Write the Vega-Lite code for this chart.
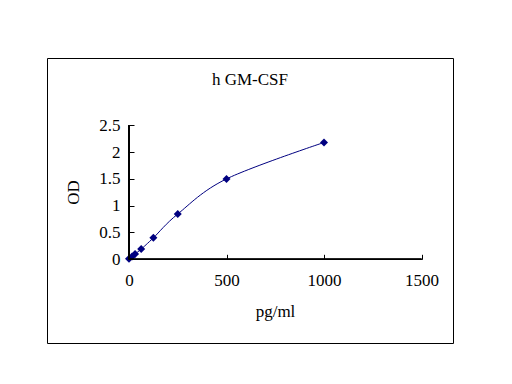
{
  "$schema": "https://vega.github.io/schema/vega-lite/v6.json",
  "width": 406,
  "height": 285,
  "autosize": {"type": "none"},
  "padding": {"left": 47, "top": 58, "right": 59, "bottom": 41},
  "background": "white",
  "config": {"view": {"stroke": "black", "strokeWidth": 1}, "font": "Liberation Serif"},
  "title": {"text": "h GM-CSF", "fontSize": 17, "fontWeight": "normal", "font": "Liberation Serif", "color": "black", "anchor": "middle", "baseline": "alphabetic", "offset": -44},
  "data": {"values": [
    {"pg": 0, "od": 0.01},
    {"pg": 15.6, "od": 0.05},
    {"pg": 31.25, "od": 0.1},
    {"pg": 62.5, "od": 0.19},
    {"pg": 125, "od": 0.4},
    {"pg": 250, "od": 0.845},
    {"pg": 500, "od": 1.5},
    {"pg": 1000, "od": 2.18}
  ]},
  "layer": [
    {
      "mark": {"type": "line", "interpolate": "cardinal", "color": "#000080", "strokeWidth": 1},
      "encoding": {
        "x": {"field": "pg", "type": "quantitative",
          "scale": {"domain": [-420.5, 1661.5], "nice": false, "zero": false},
          "axis": {"values": [0, 500, 1000, 1500], "format": "d", "domain": false, "grid": false, "offset": -83.7, "tickSize": -5, "tickColor": "black",
            "labelFont": "Liberation Serif", "labelFontSize": 17, "labelColor": "black", "labelPadding": 18, "labelFlush": false, "labelOverlap": false,
            "title": "pg/ml", "titleFont": "Liberation Serif", "titleFontSize": 17, "titleFontWeight": "normal", "titleColor": "black",
            "titleX": 228, "titleY": 57.4, "titleBaseline": "alphabetic", "titleAlign": "center"}},
        "y": {"field": "od", "type": "quantitative",
          "scale": {"domain": [-1.562, 3.756], "nice": false, "zero": false},
          "axis": {"values": [0, 0.5, 1, 1.5, 2, 2.5], "format": "~g", "domain": false, "grid": false, "offset": -82, "tickSize": -5, "tickColor": "black",
            "labelFont": "Liberation Serif", "labelFontSize": 17, "labelColor": "black", "labelPadding": 14, "labelFlush": false, "labelOverlap": false,
            "title": "OD", "titleFont": "Liberation Serif", "titleFontSize": 17, "titleFontWeight": "normal", "titleColor": "black",
            "titleX": -56, "titleY": 134, "titleAngle": -90, "titleBaseline": "middle", "titleAlign": "center"}}
      }
    },
    {
      "mark": {"type": "point", "shape": "diamond", "filled": true, "color": "#000080", "size": 64, "opacity": 1},
      "encoding": {
        "x": {"field": "pg", "type": "quantitative"},
        "y": {"field": "od", "type": "quantitative"}
      }
    },
    {
      "mark": {"type": "rule", "color": "black", "strokeWidth": 1},
      "encoding": {
        "x": {"datum": 0, "type": "quantitative"},
        "x2": {"datum": 1500},
        "y": {"datum": 0, "type": "quantitative"}
      }
    },
    {
      "mark": {"type": "rule", "color": "black", "strokeWidth": 1},
      "encoding": {
        "x": {"datum": 0, "type": "quantitative"},
        "y": {"datum": 0, "type": "quantitative"},
        "y2": {"datum": 2.5}
      }
    }
  ]
}
